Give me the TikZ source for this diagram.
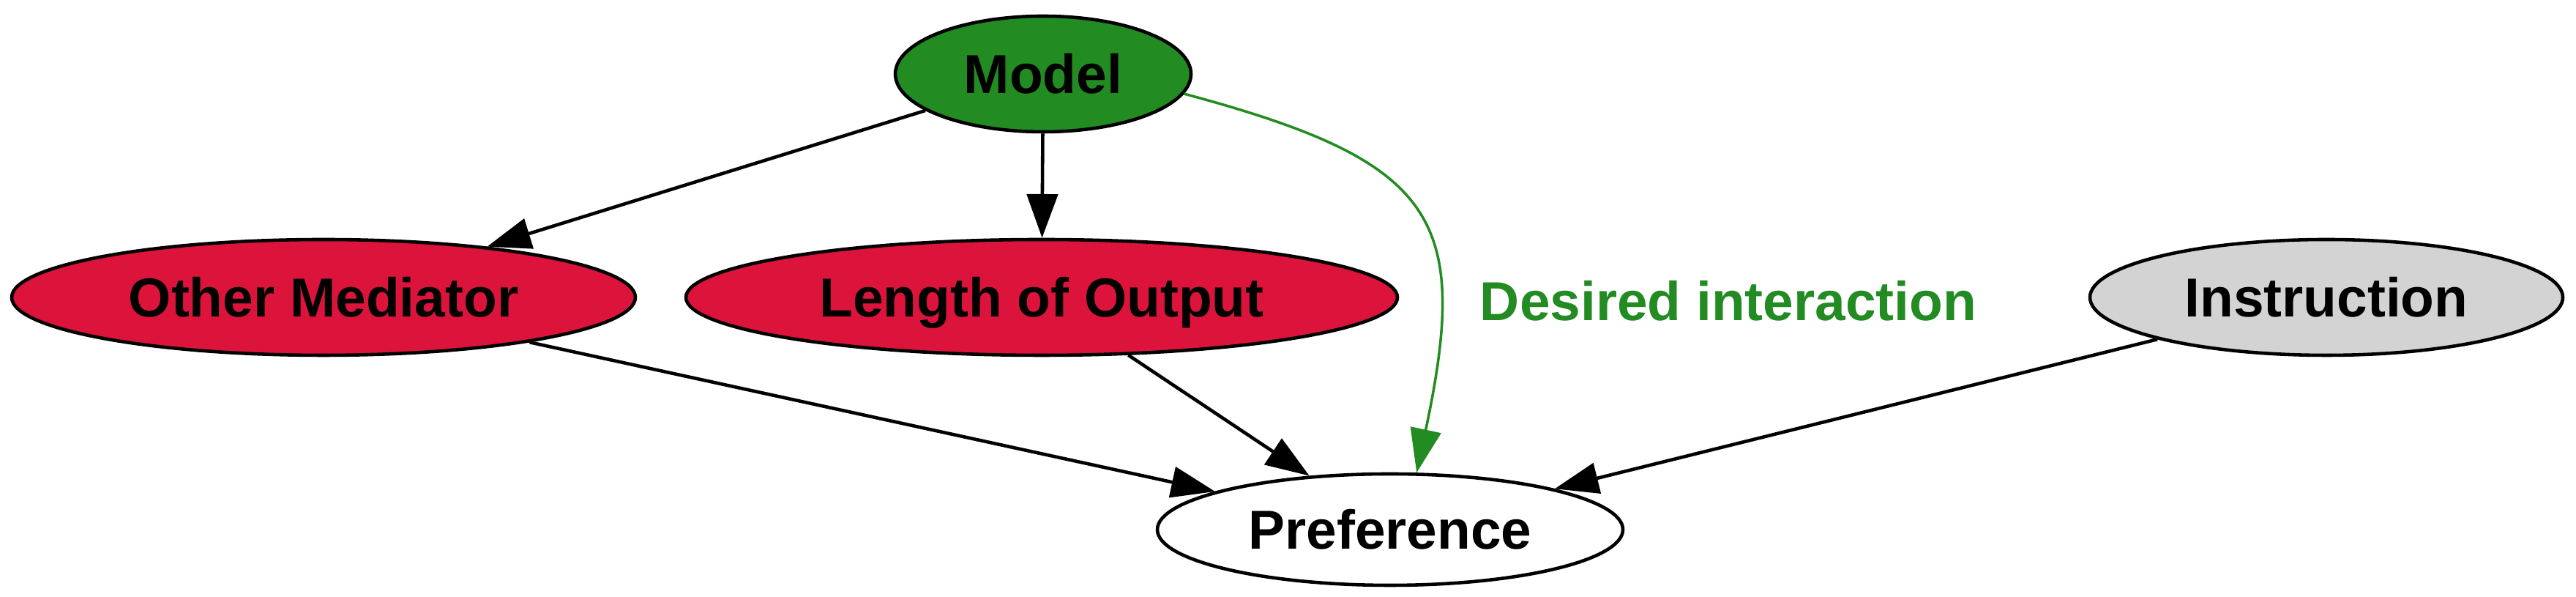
\documentclass[tikz,border=0pt]{standalone}
\usepackage{fontspec}
\setmainfont{Liberation Sans}
\usepackage{tikz}
\usepackage{xcolor}
\usetikzlibrary{
    arrows.meta,
    shapes,
    calc,
    positioning
}
\definecolor{fgreen}{RGB}{34,139,34}
\definecolor{crimson}{RGB}{220,20,60}
\definecolor{lgray}{RGB}{211,211,211}
\tikzset{
    lbl/.style={font=\fontsize{21.3}{25}\selectfont\bfseries, text height=15.25pt, text depth=0pt},
    var/.style={lbl, draw, ellipse, line width=1.3pt, inner sep=0pt, minimum height=1.58cm},
    arr/.style={line width=1.3pt, -{Triangle[length=17pt,width=12pt]}}
}

\begin{document}
\begin{tikzpicture}
                        \useasboundingbox (0, 0) rectangle (35.19, 8.15);
                        \node[var, fill=fgreen, minimum width=4.04cm] (m) at (14.25, 7.14) {Model};
                        \node[var, fill=crimson, minimum width=8.52cm] (om) at (4.42, 4.09) {Other Mediator};
                        \node[var, fill=crimson, minimum width=9.72cm] (lo) at (14.23, 4.09) {Length of Output};
                        \node[var, fill=lgray, minimum width=6.46cm] (ins) at (31.78, 4.09) {Instruction};
                        \node[var, minimum width=6.36cm, minimum height=1.52cm] (pref) at (18.99, 0.92) {Preference};
                        \node[lbl, text=fgreen] (di) at (23.61, 4.04) {Desired interaction};

                        \draw[arr]
                        (m) edge (om)
                        (m) edge (lo)
                        (om) edge (pref)
                        (lo) edge (pref)
                        (ins) edge (pref);
                        \draw[arr, fgreen, line width=1pt] (m.-8) to[out=-15, in=78, looseness=1.5] (pref.65);
                    \end{tikzpicture}
\end{document}
